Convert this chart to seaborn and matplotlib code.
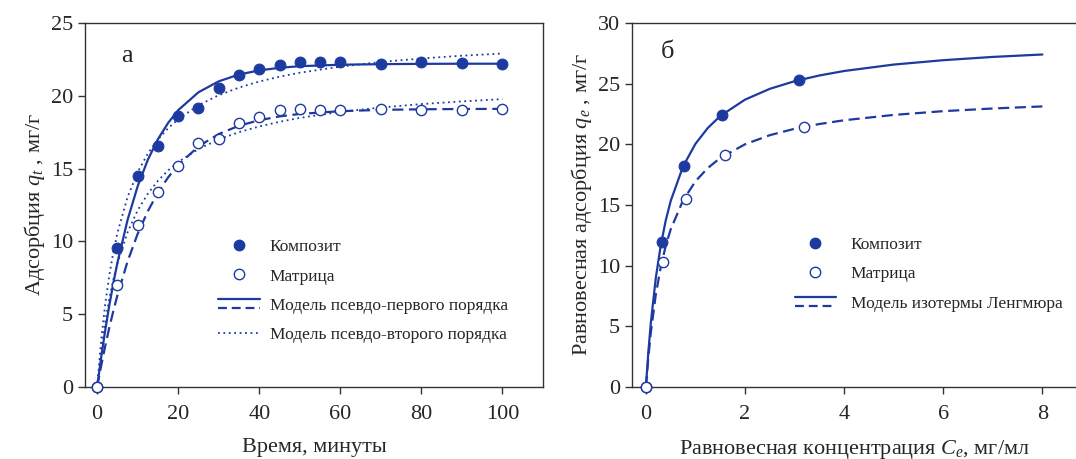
import matplotlib
matplotlib.use("Agg")
from matplotlib import pyplot as plt
from matplotlib.legend_handler import HandlerBase
from matplotlib.lines import Line2D
import pandas as pd
import seaborn as sns

# --- kinetics (panel a) ---
t_exp = [0, 5, 10, 15, 20, 25, 30, 35, 40, 45, 50, 55, 60, 70, 80, 90, 100]
q_comp = [0, 9.52, 14.5, 16.56, 18.62, 19.13, 20.53, 21.42, 21.86, 22.13, 22.29,
          22.29, 22.29, 22.2, 22.34, 22.25, 22.16]
q_matr = [0, 7.0, 11.12, 13.42, 15.18, 16.74, 17.02, 18.12, 18.51, 19.04, 19.08,
          19.04, 19.04, 19.08, 19.04, 19.04, 19.08]

t_fit = [0, 1, 2, 3, 4, 5, 7.5, 10, 12.5, 15, 17.5, 20, 25, 30, 35, 40, 45, 50,
         60, 70, 80, 90, 100]
pfo_comp = [0, 2.05, 3.91, 5.61, 7.14, 8.53, 11.47, 13.79, 15.6, 17.02, 18.13, 19.01,
            20.24, 20.99, 21.46, 21.74, 21.92, 22.03, 22.13, 22.17, 22.19, 22.2, 22.2]
pfo_matr = [0, 1.47, 2.82, 4.08, 5.23, 6.30, 8.62, 10.52, 12.07, 13.35, 14.39, 15.24,
            16.52, 17.37, 17.94, 18.32, 18.58, 18.75, 18.94, 19.03, 19.07, 19.09, 19.1]
pso_comp = [0, 3.24, 5.72, 7.68, 9.27, 10.58, 13.04, 14.76, 16.03, 17.0, 17.77, 18.39,
            19.35, 20.04, 20.56, 20.98, 21.31, 21.58, 22.0, 22.32, 22.56, 22.75, 22.9]
pso_matr = [0, 2.50, 4.47, 6.07, 7.38, 8.49, 10.62, 12.14, 13.27, 14.16, 14.87, 15.45,
            16.34, 17.0, 17.5, 17.89, 18.21, 18.48, 18.89, 19.19, 19.43, 19.61, 19.77]

# --- isotherms (panel b) ---
ce_comp = [0, 0.315, 0.765, 1.53, 3.09]
qe_comp = [0, 11.92, 18.22, 22.4, 25.32]
ce_matr = [0, 0.35, 0.805, 1.60, 3.19]
qe_matr = [0, 10.27, 15.47, 19.13, 21.44]

c_fit = [0, 0.05, 0.1, 0.2, 0.3, 0.4, 0.5, 0.75, 1, 1.25, 1.5, 2, 2.5, 3, 3.5, 4,
         5, 6, 7, 8]
lang_comp = [0, 2.93, 5.33, 9.0, 11.68, 13.72, 15.33, 18.18, 20.04, 21.35, 22.33,
             23.68, 24.57, 25.2, 25.67, 26.04, 26.57, 26.93, 27.2, 27.4]
lang_matr = [0, 2.49, 4.52, 7.63, 9.9, 11.63, 12.99, 15.38, 16.95, 18.05, 18.87,
             20.0, 20.75, 21.28, 21.67, 21.98, 22.42, 22.73, 22.95, 23.12]

blue = "#1d3aa0"

sns.set_theme(style="ticks")
plt.rcParams['font.family'] = ['Liberation Serif', 'DejaVu Serif']
plt.rcParams['mathtext.fontset'] = 'custom'
plt.rcParams['mathtext.rm'] = 'Liberation Serif'
plt.rcParams['mathtext.it'] = 'Liberation Serif:italic'
plt.rcParams['axes.edgecolor'] = '#333333'
plt.rcParams['axes.linewidth'] = 1.0


class TwoLines(HandlerBase):
    # solid line above dashed line, as in the original legend
    def create_artists(self, legend, orig_handle, xdescent, ydescent, width, height,
                       fontsize, trans):
        x0, x1 = -xdescent, -xdescent + width
        y_hi = -ydescent + height * 0.85
        y_lo = -ydescent + height * 0.15
        a = Line2D([x0, x1], [y_hi, y_hi], color=blue, lw=1.6, ls='-')
        b = Line2D([x0, x1], [y_lo, y_lo], color=blue, lw=1.6, ls=(0, (4, 2.2)))
        a.set_transform(trans)
        b.set_transform(trans)
        return [a, b]


fig = plt.figure(figsize=(10.76, 4.59), dpi=100)
ax1 = fig.add_axes([0.079, 0.157, 0.4256, 0.793])
ax2 = fig.add_axes([0.5874, 0.157, 0.4136, 0.793])

# panel a
kin = pd.DataFrame({"t": t_exp, "comp": q_comp, "matr": q_matr})
fit = pd.DataFrame({"t": t_fit, "pfo_c": pfo_comp, "pfo_m": pfo_matr,
                    "pso_c": pso_comp, "pso_m": pso_matr})
sns.lineplot(data=fit, x="t", y="pfo_c", ax=ax1, color=blue, lw=1.6, sort=False)
sns.lineplot(data=fit, x="t", y="pfo_m", ax=ax1, color=blue, lw=1.6, sort=False,
             linestyle=(0, (5, 2.5)))
sns.lineplot(data=fit, x="t", y="pso_c", ax=ax1, color=blue, lw=1.3, sort=False,
             linestyle=(0, (1, 2)))
sns.lineplot(data=fit, x="t", y="pso_m", ax=ax1, color=blue, lw=1.3, sort=False,
             linestyle=(0, (1, 2)))
sns.scatterplot(data=kin, x="t", y="comp", ax=ax1, color=blue, s=60,
                edgecolor=blue, linewidth=0.8, clip_on=False, zorder=5)
sns.scatterplot(data=kin, x="t", y="matr", ax=ax1, facecolor="white", s=55,
                edgecolor=blue, linewidth=1.0, clip_on=False, zorder=5)

ax1.set_xlim(-3, 110)
ax1.set_ylim(0, 25)
ax1.set_xticks([0, 20, 40, 60, 80, 100])
ax1.set_yticks([0, 5, 10, 15, 20, 25])
ax1.set_xlabel("Время, минуты", fontsize=16, labelpad=10)
ax1.set_ylabel(r"Адсорбция $q_t$ , мг/г", fontsize=16, labelpad=3)
ax1.text(0.092, 0.91, "а", transform=ax1.transAxes, fontsize=19,
         ha="center", va="center")

h_c = Line2D([], [], marker='o', ls='none', color=blue, markersize=7.5)
h_m = Line2D([], [], marker='o', ls='none', markerfacecolor='white',
             markeredgecolor=blue, markersize=7.5, markeredgewidth=1.0)
h_pso = Line2D([], [], color=blue, lw=1.3, ls=(0, (1, 2)))
ax1.legend([h_c, h_m, object(), h_pso],
           ["Композит", "Матрица", "Модель псевдо-первого порядка",
            "Модель псевдо-второго порядка"],
           handler_map={object: TwoLines()},
           loc="lower left", bbox_to_anchor=(0.257, 0.078), frameon=False,
           fontsize=12.5, handlelength=2.4, handletextpad=0.55, labelspacing=0.75)

# panel b
iso_c = pd.DataFrame({"c": ce_comp, "q": qe_comp})
iso_m = pd.DataFrame({"c": ce_matr, "q": qe_matr})
lang = pd.DataFrame({"c": c_fit, "comp": lang_comp, "matr": lang_matr})
sns.lineplot(data=lang, x="c", y="comp", ax=ax2, color=blue, lw=1.6, sort=False)
sns.lineplot(data=lang, x="c", y="matr", ax=ax2, color=blue, lw=1.6, sort=False,
             linestyle=(0, (5, 2.5)))
sns.scatterplot(data=iso_c, x="c", y="q", ax=ax2, color=blue, s=60,
                edgecolor=blue, linewidth=0.8, clip_on=False, zorder=5)
sns.scatterplot(data=iso_m, x="c", y="q", ax=ax2, facecolor="white", s=55,
                edgecolor=blue, linewidth=1.0, clip_on=False, zorder=5)

ax2.set_xlim(-0.28, 8.7)
ax2.set_ylim(0, 30)
ax2.set_xticks([0, 2, 4, 6, 8])
ax2.set_yticks([0, 5, 10, 15, 20, 25, 30])
ax2.spines['right'].set_visible(False)
ax2.set_xlabel(r"Равновесная концентрация $C_e$, мг/мл", fontsize=16, labelpad=10)
ax2.set_ylabel(r"Равновесная адсорбция $q_e$ , мг/г", fontsize=16, labelpad=3)
ax2.text(0.079, 0.92, "б", transform=ax2.transAxes, fontsize=19,
         ha="center", va="center")
ax2.legend([h_c, h_m, object()],
           ["Композит", "Матрица", "Модель изотермы Ленгмюра"],
           handler_map={object: TwoLines()},
           loc="lower left", bbox_to_anchor=(0.33, 0.164), frameon=False,
           fontsize=12.5, handlelength=2.4, handletextpad=0.85, labelspacing=0.75)

for ax in (ax1, ax2):
    ax.tick_params(axis="both", labelsize=16, direction="out", length=5, width=1,
                   color="#333333")
    ax.tick_params(axis="x", pad=8)

fig.savefig("out.png", dpi=100)
